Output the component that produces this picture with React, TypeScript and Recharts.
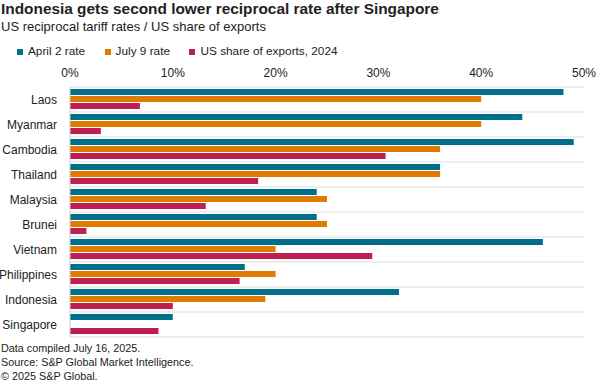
import { Bar, BarChart, CartesianGrid, XAxis, YAxis } from "recharts";

const countries = [
  "Laos",
  "Myanmar",
  "Cambodia",
  "Thailand",
  "Malaysia",
  "Brunei",
  "Vietnam",
  "Philippines",
  "Indonesia",
  "Singapore",
];
const april2Rate = [48, 44, 49, 36, 24, 24, 46, 17, 32, 10];
const july9Rate = [40, 40, 36, 36, 25, 25, 20, 20, 19, 0];
const usShare2024 = [6.8, 3.0, 30.7, 18.3, 13.2, 1.6, 29.4, 16.5, 10.0, 8.6];
const xTicks = [0, 10, 20, 30, 40, 50];

const SERIES = [
  { key: "april", name: "April 2 rate", color: "#006f8a" },
  { key: "july", name: "July 9 rate", color: "#de7b00" },
  { key: "share", name: "US share of exports, 2024", color: "#be1f50" },
];

const FONT = '"Liberation Sans", Arial, sans-serif';

const data = countries.map((country, i) => ({
  country,
  april: april2Rate[i],
  july: july9Rate[i],
  share: usShare2024[i],
}));

export default function App() {
  return (
    <div
      style={{
        position: "relative",
        width: 600,
        height: 384,
        fontFamily: FONT,
        color: "#222",
        background: "#fff",
        overflow: "hidden",
      }}
    >
      <style>{`body{margin:0}`}</style>
      <div
        style={{
          position: "absolute",
          left: 1,
          top: 1.3,
          fontSize: 15.4,
          lineHeight: 1,
          fontWeight: "bold",
          whiteSpace: "nowrap",
        }}
      >
        Indonesia gets second lower reciprocal rate after Singapore
      </div>
      <div
        style={{
          position: "absolute",
          left: 1,
          top: 19.8,
          fontSize: 13,
          lineHeight: 1,
          whiteSpace: "nowrap",
        }}
      >
        US reciprocal tariff rates / US share of exports
      </div>
      <div
        style={{
          position: "absolute",
          left: 17,
          top: 46,
          fontSize: 11.8,
          lineHeight: 1,
          display: "flex",
          gap: 19.5,
          whiteSpace: "nowrap",
        }}
      >
        {SERIES.map((s) => (
          <span key={s.key} style={{ display: "flex", alignItems: "center" }}>
            <span
              style={{
                width: 6,
                height: 6,
                background: s.color,
                marginRight: 5,
                display: "inline-block",
              }}
            />
            {s.name}
          </span>
        ))}
      </div>

      <div style={{ position: "absolute", left: 0, top: 0 }}>
        <BarChart
          width={600}
          height={384}
          data={data}
          layout="vertical"
          margin={{ top: 67, right: 16, bottom: 47, left: 0 }}
          barCategoryGap={2}
          barGap={1}
        >
          <CartesianGrid
            vertical={false}
            stroke="#dddddd"
            horizontalCoordinatesGenerator={({ offset }: any) =>
              countries
                .map((_, i) => offset.top + (i * offset.height) / countries.length)
                .concat(offset.top + offset.height)
            }
          />
          <XAxis
            type="number"
            orientation="top"
            domain={[0, 50]}
            ticks={xTicks}
            tickFormatter={(v) => `${v}%`}
            axisLine={false}
            tickLine={false}
            tickMargin={4}
            height={20}
            tick={{ fill: "#222", fontSize: 12, fontFamily: FONT }}
          />
          <YAxis
            type="category"
            dataKey="country"
            width={70}
            axisLine={{ stroke: "#cccccc" }}
            tickLine={false}
            tickMargin={7}
            tick={{ fill: "#222", fontSize: 12, fontFamily: FONT }}
          />
          {SERIES.map((s) => (
            <Bar
              key={s.key}
              dataKey={s.key}
              name={s.name}
              fill={s.color}
              isAnimationActive={false}
            />
          ))}
        </BarChart>
      </div>

      <div
        style={{
          position: "absolute",
          left: 1,
          top: 342,
          fontSize: 10.8,
          lineHeight: "13.8px",
          whiteSpace: "nowrap",
        }}
      >
        <div>Data compiled July 16, 2025.</div>
        <div>Source: S&amp;P Global Market Intelligence.</div>
        <div>© 2025 S&amp;P Global.</div>
      </div>
    </div>
  );
}
